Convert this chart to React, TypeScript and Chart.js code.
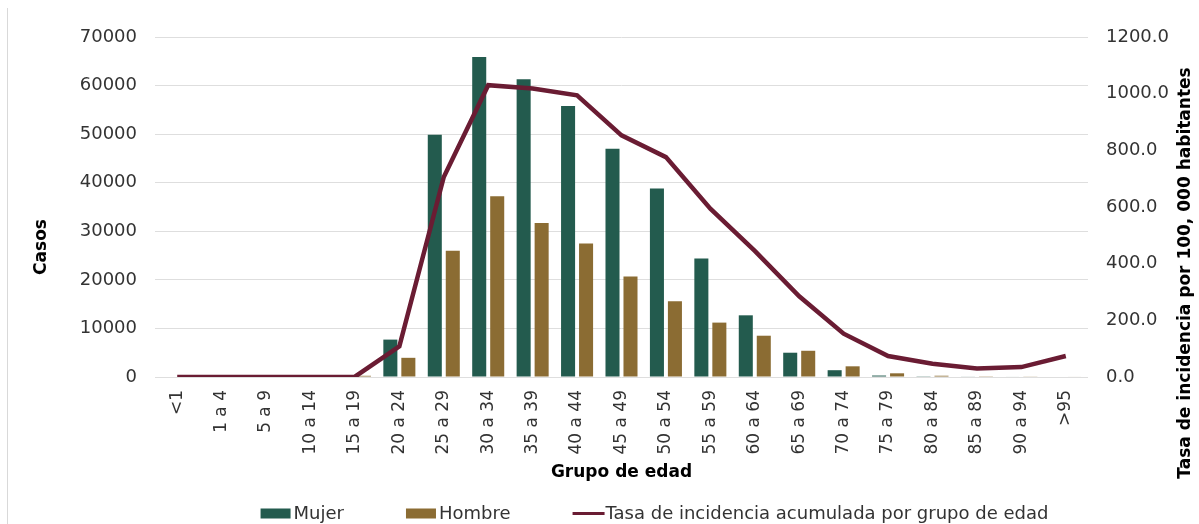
import React, { useEffect, useRef } from "react";
import { Chart, registerables } from "chart.js";

Chart.register(...registerables);

const categories = [
  "<1", "1 a 4", "5 a 9", "10 a 14", "15 a 19", "20 a 24", "25 a 29", "30 a 34",
  "35 a 39", "40 a 44", "45 a 49", "50 a 54", "55 a 59", "60 a 64", "65 a 69",
  "70 a 74", "75 a 79", "80 a 84", "85 a 89", "90 a 94", ">95",
];
const mujer = [0, 0, 0, 0, 150, 7700, 49900, 65900, 61300, 55800, 47000, 38800, 24400, 12700, 5000, 1400, 300, 150, 120, 110, 100];
const hombre = [0, 0, 0, 0, 250, 3950, 26000, 37200, 31700, 27500, 20700, 15600, 11200, 8500, 5400, 2200, 760, 260, 150, 130, 110];
const tasa = [0, 0, 0, 0, 1, 108, 706, 1030, 1018, 994, 853, 776, 594, 445, 285, 153, 74, 47, 30, 35, 74];

const seriesLabels = ["Mujer", "Hombre", "Tasa de incidencia acumulada por grupo de edad"];
const leftTitle = "Casos";
const rightTitle = "Tasa de incidencia por 100, 000 habitantes";
const xTitle = "Grupo de edad";

const GREEN = "#235B4E";
const GOLD = "#8B6C33";
const WINE = "#6A1C33";
const FONT = '"DejaVu Sans", sans-serif';

const customText = {
  id: "customText",
  afterDraw(chart: any) {
    const ctx = chart.ctx as CanvasRenderingContext2D;
    ctx.save();
    ctx.fillStyle = "#000";
    ctx.font = `bold 17px ${FONT}`;
    ctx.textAlign = "center";
    ctx.textBaseline = "middle";
    const rot = (t: string, x: number, y: number) => {
      ctx.save();
      ctx.translate(x, y);
      ctx.rotate(-Math.PI / 2);
      ctx.fillText(t, 0, 0);
      ctx.restore();
    };
    rot(leftTitle, 42, 247);
    rot(rightTitle, 1186, 273);

    // legend
    ctx.font = `18px ${FONT}`;
    const boxW = 30;
    const gap = 3;
    const spacing = 62;
    const ds = chart.data.datasets;
    const widths = ds.map((d: any) => boxW + gap + ctx.measureText(d.label).width);
    const total = widths.reduce((a: number, b: number) => a + b, 0) + spacing * (ds.length - 1);
    let x = 654.5 - total / 2;
    const cy = 513.5;
    ds.forEach((d: any, i: number) => {
      if (d.type === "line") {
        ctx.fillStyle = d.borderColor;
        ctx.fillRect(x, cy - 1.5, boxW + 2, 3);
      } else {
        ctx.fillStyle = d.backgroundColor;
        ctx.fillRect(x, cy - 5, boxW, 10);
      }
      ctx.fillStyle = "#333";
      ctx.textAlign = "left";
      ctx.fillText(d.label, x + boxW + gap, cy + 1);
      x += widths[i] + spacing;
    });
    ctx.restore();
  },
};

export default function App() {
  const ref = useRef<HTMLCanvasElement | null>(null);
  useEffect(() => {
    document.body.style.margin = "0";
    document.body.style.overflow = "hidden";
    if (!ref.current) return;
    Chart.defaults.font.family = FONT;
    const chart = new Chart(ref.current, {
      type: "bar",
      data: {
        labels: categories,
        datasets: [
          {
            type: "bar",
            label: seriesLabels[0],
            data: mujer,
            backgroundColor: GREEN,
            yAxisID: "y",
            order: 1,
            categoryPercentage: 0.81,
            barPercentage: 0.78,
          },
          {
            type: "bar",
            label: seriesLabels[1],
            data: hombre,
            backgroundColor: GOLD,
            yAxisID: "y",
            order: 1,
            categoryPercentage: 0.81,
            barPercentage: 0.78,
          },
          {
            type: "line",
            label: seriesLabels[2],
            data: tasa,
            borderColor: WINE,
            backgroundColor: WINE,
            borderWidth: 4.5,
            pointRadius: 0,
            tension: 0,
            yAxisID: "y1",
            order: 0,
          } as any,
        ],
      },
      options: {
        responsive: false,
        animation: false,
        layout: { padding: { top: 37, left: 0, right: 0, bottom: 0 } },
        plugins: {
          legend: { display: false },
          tooltip: { enabled: false },
        },
        scales: {
          x: {
            grid: { display: false, drawTicks: false },
            border: { display: false },
            ticks: {
              autoSkip: false,
              minRotation: 90,
              maxRotation: 90,
              padding: 13,
              color: "#333",
              font: { size: 17 },
            },
            title: {
              display: true,
              text: xTitle,
              color: "#000",
              font: { size: 17, weight: "bold" },
              padding: { top: 0, bottom: 41 },
            },
            afterFit: (s: any) => {
              s.height = 147;
            },
          },
          y: {
            position: "left",
            min: 0,
            max: 70000,
            grid: { color: "#dedede", drawTicks: false },
            border: { display: false },
            ticks: {
              stepSize: 10000,
              padding: 18,
              color: "#333",
              font: { size: 18 },
              callback: (v: any) => String(v),
            },
            afterFit: (s: any) => {
              s.width = 155;
            },
          },
          y1: {
            position: "right",
            min: 0,
            max: 1200,
            grid: { display: false, drawTicks: false },
            border: { display: false },
            ticks: {
              stepSize: 200,
              padding: 18,
              color: "#333",
              font: { size: 18 },
              callback: (v: any) => Number(v).toFixed(1),
            },
            afterFit: (s: any) => {
              s.width = 111;
            },
          },
        },
      },
      plugins: [customText],
    });
    return () => chart.destroy();
  }, []);

  return (
    <div style={{ position: "relative", width: 1199, height: 524, background: "#fff" }}>
      <div style={{ position: "absolute", left: 7, top: 8, bottom: 0, width: 1, background: "#d9d9d9" }} />
      <canvas ref={ref} width={1199} height={524} style={{ display: "block", width: 1199, height: 524 }} />
    </div>
  );
}
